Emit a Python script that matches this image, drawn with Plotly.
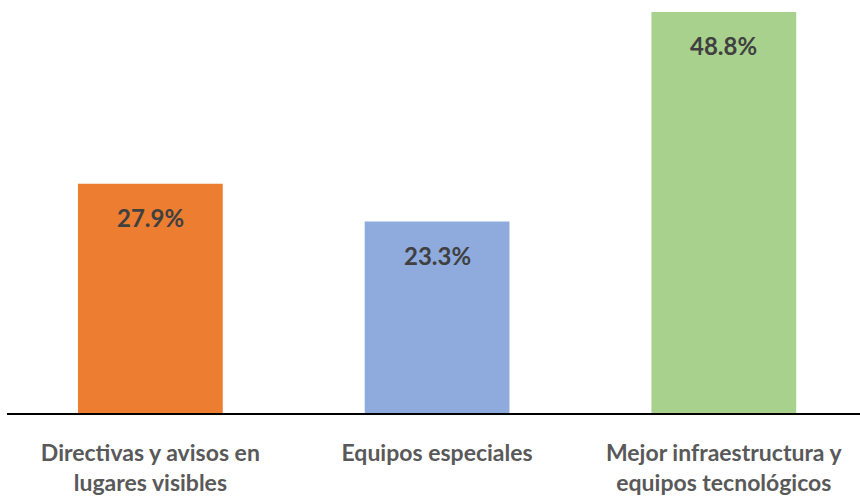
import plotly.graph_objects as go

categories = ["Directivas y avisos en<br>lugares visibles", "Equipos especiales",
              "Mejor infraestructura y<br>equipos tecnológicos"]
values = [27.9, 23.3, 48.8]
labels = ["27.9%", "23.3%", "48.8%"]
colors = ["#ED7D31", "#8FAADC", "#A9D18E"]

x = list(range(len(categories)))
fig = go.Figure(go.Bar(x=x, y=values, marker=dict(color=colors, line=dict(width=0)),
                       width=0.505, hoverinfo="skip"))

for xi, v, t in zip(x, values, labels):
    fig.add_annotation(x=xi, y=v, text=t, showarrow=False, yanchor="top", yshift=-17,
                       font=dict(family="Lato", size=24, color="#404040", weight="bold"))

fig.update_layout(
    width=860, height=500, margin=dict(l=7, r=0, t=0, b=87, autoexpand=False),
    paper_bgcolor="white", plot_bgcolor="white", showlegend=False,
    xaxis=dict(range=[-0.5, 2.475], tickvals=x, ticktext=categories, showline=True,
               linecolor="black", linewidth=2, ticks="", showgrid=False, zeroline=False,
               automargin=False, ticklabelstandoff=18,
               tickfont=dict(family="Lato", size=23, color="#595959", weight="bold")),
    yaxis=dict(range=[0, 50.26], visible=False, showgrid=False, zeroline=False),
)
fig.write_html("out.html", config={"displayModeBar": False},
               post_script="document.body.style.margin='0px';")
